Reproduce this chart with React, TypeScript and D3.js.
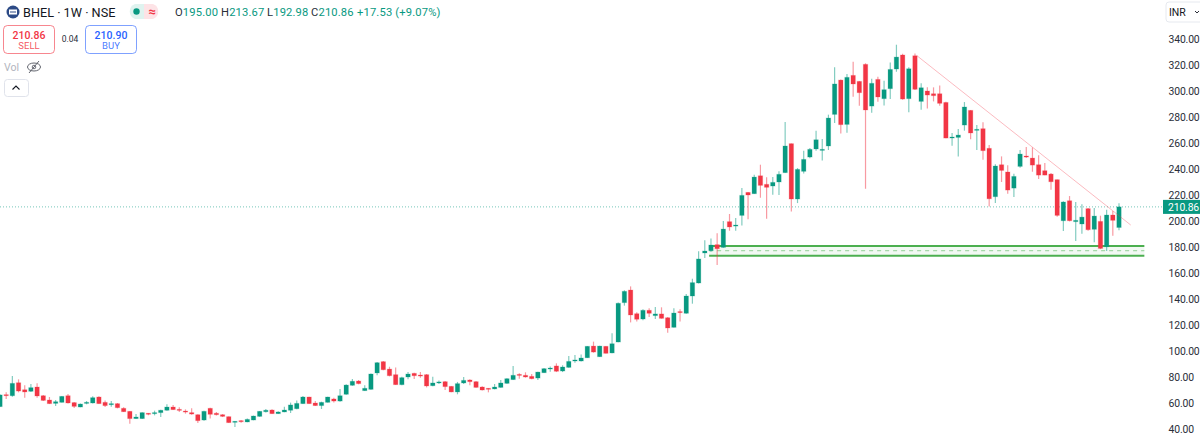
import React from "react";
import * as d3 from "d3";

const opens = [
  57.2, 66.4, 65.6, 75.6, 70.2, 69.0, 72.3, 65.6, 62.3, 59.7,
  60.5, 65.6, 60.3, 56.9, 59.7, 60.0, 64.6, 60.5, 58.7, 59.5,
  55.9, 53.6, 48.0, 48.0, 52.1, 51.8, 52.6, 54.4, 56.9, 55.1,
  53.8, 52.6, 51.0, 46.9, 55.9, 52.1, 51.0, 49.5, 45.6, 46.4,
  45.4, 46.9, 49.7, 53.3, 54.6, 51.8, 53.1, 54.4, 55.6, 59.5,
  64.6, 60.0, 58.0, 60.5, 63.1, 61.5, 66.7, 73.6, 76.9, 69.5,
  70.5, 83.1, 91.8, 86.1, 81.8, 74.1, 80.0, 82.8, 81.5, 81.8,
  73.3, 75.6, 76.4, 72.8, 68.5, 75.4, 77.7, 76.4, 72.3, 71.3,
  70.8, 72.0, 75.1, 78.0, 82.0, 81.3, 80.5, 79.2, 83.3, 86.4,
  88.5, 84.6, 87.4, 92.3, 92.3, 94.8, 103.8, 95.6, 103.6, 98.5,
  106.9, 137.2, 146.9, 128.7, 124.6, 131.3, 127.2, 128.5, 125.6, 118.2,
  130.3, 129.0, 142.3, 152.3, 175.4, 177.2, 181.8, 179.7, 199.5, 196.1,
  204.3, 222.0, 221.0, 234.8, 228.2, 226.9, 230.0, 237.2, 259.5, 216.9,
  238.2, 249.2, 255.4, 254.6, 257.7, 282.0, 308.4, 274.3, 312.0, 307.4,
  320.5, 288.4, 308.9, 294.1, 301.8, 316.9, 327.7, 294.1, 327.1, 292.0,
  300.0, 297.9, 297.9, 291.2, 264.1, 264.3, 273.8, 285.1, 270.0, 271.0,
  255.9, 218.7, 243.3, 237.7, 225.3, 242.0, 250.0, 248.4, 243.3, 238.7,
  236.1, 231.8, 200.2, 215.6, 199.5, 197.7, 209.5, 193.6, 199.7, 180.2,
  204.6, 195.0,
];

const closes = [
  66.2, 65.9, 75.1, 69.2, 68.5, 71.8, 65.4, 62.0, 59.5, 61.0,
  65.1, 60.0, 57.4, 59.2, 60.5, 64.1, 59.5, 58.0, 59.5, 56.4,
  53.3, 48.0, 49.2, 52.6, 51.5, 52.6, 54.4, 56.9, 54.9, 54.6,
  53.1, 51.5, 46.4, 53.6, 51.3, 51.0, 49.7, 44.9, 45.9, 45.9,
  47.4, 50.0, 53.6, 54.4, 51.8, 53.1, 54.6, 58.5, 59.7, 64.6,
  59.5, 58.0, 60.5, 64.6, 61.5, 65.6, 73.8, 76.7, 74.9, 71.3,
  82.3, 91.0, 85.6, 81.0, 74.1, 79.5, 82.3, 81.0, 81.3, 73.1,
  75.4, 76.2, 72.6, 68.5, 74.9, 77.4, 76.4, 72.0, 70.0, 70.8,
  72.3, 75.4, 78.7, 81.3, 81.3, 80.0, 78.7, 83.8, 86.4, 86.9,
  84.4, 87.7, 92.0, 93.1, 94.6, 103.6, 99.2, 103.8, 98.2, 105.6,
  136.7, 145.9, 127.7, 124.4, 131.3, 129.0, 128.5, 125.1, 117.7, 129.2,
  129.8, 142.3, 152.6, 170.8, 176.9, 181.5, 178.7, 193.8, 195.4, 196.9,
  219.7, 220.0, 233.8, 227.4, 225.9, 229.7, 235.9, 257.7, 216.9, 239.7,
  247.4, 255.1, 262.5, 255.1, 279.2, 305.4, 274.1, 310.5, 305.4, 298.7,
  285.4, 305.9, 295.4, 301.0, 316.6, 326.1, 293.8, 317.1, 301.3, 302.5,
  296.9, 296.4, 290.5, 263.8, 264.6, 266.1, 287.7, 267.7, 270.5, 254.1,
  217.1, 242.3, 238.9, 223.8, 234.3, 251.5, 249.2, 243.0, 235.3, 235.3,
  230.2, 204.3, 214.6, 200.2, 200.5, 203.0, 193.3, 203.8, 178.9, 204.6,
  200.5, 210.86,
];

const highs = [
  66.7, 68.2, 80.8, 78.2, 73.6, 74.6, 75.1, 66.2, 64.6, 62.3,
  65.4, 66.9, 60.8, 59.7, 61.5, 65.1, 65.1, 62.0, 61.5, 60.0,
  56.7, 53.8, 51.5, 52.8, 52.3, 54.1, 54.9, 59.0, 58.5, 56.7,
  55.1, 55.9, 51.3, 54.1, 56.4, 53.1, 51.5, 49.7, 46.2, 46.9,
  48.0, 50.3, 53.8, 55.4, 55.1, 53.6, 57.2, 60.3, 62.0, 65.4,
  64.9, 61.5, 61.0, 64.9, 64.1, 70.8, 74.4, 78.5, 77.7, 73.6,
  82.6, 91.5, 92.3, 87.9, 87.4, 80.2, 83.8, 83.3, 83.8, 82.3,
  80.2, 77.4, 76.9, 73.1, 76.2, 80.0, 78.2, 76.9, 72.8, 71.5,
  74.6, 77.7, 79.0, 88.5, 82.8, 83.6, 82.3, 84.1, 86.9, 88.0,
  90.5, 89.0, 96.2, 96.9, 97.4, 103.8, 107.2, 104.1, 103.8, 113.6,
  137.4, 146.7, 149.7, 129.8, 132.1, 132.8, 133.8, 133.6, 126.2, 132.8,
  132.1, 143.8, 155.6, 176.7, 185.1, 186.6, 190.5, 200.0, 205.4, 202.3,
  225.4, 222.3, 235.6, 243.3, 233.6, 233.8, 238.2, 276.1, 259.7, 240.7,
  254.1, 256.1, 269.5, 263.0, 281.8, 318.2, 308.9, 313.0, 322.5, 307.7,
  321.3, 309.5, 311.0, 307.9, 322.0, 335.6, 328.7, 318.2, 328.9, 305.9,
  302.8, 302.8, 304.3, 291.8, 267.7, 270.7, 291.5, 285.3, 273.8, 275.9,
  258.4, 243.6, 249.7, 242.8, 236.4, 254.6, 256.9, 256.6, 250.5, 244.6,
  236.9, 232.0, 215.1, 219.2, 214.6, 212.8, 210.0, 210.0, 204.1, 208.7,
  207.7, 213.67,
];

const lows = [
  56.9, 63.1, 64.9, 68.2, 64.1, 68.5, 64.1, 61.5, 59.2, 57.7,
  60.3, 59.7, 56.2, 56.7, 59.0, 59.7, 59.2, 56.9, 57.2, 55.9,
  53.1, 44.1, 47.7, 47.7, 50.5, 50.5, 49.2, 54.1, 54.6, 53.1,
  51.8, 51.0, 44.6, 46.4, 48.0, 50.3, 49.2, 44.6, 41.5, 44.9,
  45.1, 46.7, 49.5, 52.6, 51.5, 51.5, 52.8, 52.3, 55.1, 59.2,
  59.2, 57.7, 55.4, 60.3, 60.3, 61.0, 66.4, 73.3, 74.4, 69.2,
  70.2, 81.3, 85.1, 80.5, 73.8, 73.6, 78.2, 78.5, 79.5, 72.0,
  72.8, 74.6, 70.0, 68.2, 66.7, 74.6, 73.6, 71.8, 69.7, 68.2,
  70.5, 71.8, 74.9, 77.7, 78.7, 79.5, 78.2, 77.7, 83.1, 84.1,
  83.8, 83.8, 87.2, 91.0, 92.0, 94.6, 98.7, 95.4, 98.0, 98.2,
  106.7, 134.9, 122.0, 122.6, 123.6, 126.2, 124.6, 124.9, 114.1, 118.0,
  122.6, 128.7, 136.4, 152.0, 171.5, 176.4, 166.1, 179.5, 192.5, 192.5,
  196.6, 201.3, 220.7, 217.9, 201.8, 220.2, 220.0, 236.9, 207.4, 213.8,
  236.6, 248.2, 254.1, 246.6, 254.6, 275.4, 267.4, 267.9, 295.6, 288.7,
  224.8, 283.3, 291.8, 288.9, 293.8, 314.8, 293.3, 283.6, 300.7, 285.6,
  286.6, 292.0, 288.7, 263.6, 257.9, 249.7, 269.5, 262.8, 254.6, 247.1,
  211.2, 213.8, 230.0, 221.0, 218.4, 241.0, 248.4, 237.9, 232.3, 235.1,
  224.1, 203.3, 192.3, 199.7, 184.6, 190.2, 192.5, 183.6, 178.4, 176.9,
  188.7, 192.98,
];

const priceTicks = [340, 320, 300, 280, 260, 240, 220, 200, 180, 160, 140, 120, 100, 80, 60, 40];
const lastPrice = 210.86;
const zonePrices = [180.8, 177.2, 173.3];
const zoneBars = [114.7, 185.1];
const trendBars = [148.3, 182.9];
const trendPrices = [327.2, 196.9];
const ohlcLabels = [
  { key: "O", value: "195.00" },
  { key: "H", value: "213.67" },
  { key: "L", value: "192.98" },
  { key: "C", value: "210.86" },
];

const UP = "#089981";
const DOWN = "#f23645";
const FONT = "Roboto, 'Noto Sans', sans-serif";

const x = d3.scaleLinear().domain([0, opens.length - 1]).range([0, 1119]);
const y = d3.scaleLinear().domain([340, 40]).range([39, 429]);
const ohlcX = d3.scaleOrdinal<string, number>().domain(["O", "H", "L", "C"]).range([175, 221, 267, 311]);

const App: React.FC = () => {
  const trend = d3.line<number>()
    .x((d, i) => x(trendBars[i]))
    .y((d) => y(d))(trendPrices) as string;

  return (
    <>
      <style>{"body{margin:0;background:#fff}"}</style>
      <svg width={1200} height={435} style={{ display: "block", fontFamily: FONT }}>
        <rect width={1200} height={435} fill="#fff" />

        {/* last price line */}
        <line x1={0} x2={1163} y1={y(lastPrice)} y2={y(lastPrice)} stroke={UP} strokeOpacity={0.55} strokeDasharray="1 2" />

        {/* support zone */}
        <rect x={x(zoneBars[0])} width={x(zoneBars[1]) - x(zoneBars[0])} y={y(zonePrices[0])}
          height={y(zonePrices[2]) - y(zonePrices[0])} fill="#4caf50" fillOpacity={0.07} />
        <line x1={x(zoneBars[0])} x2={x(zoneBars[1])} y1={y(zonePrices[1])} y2={y(zonePrices[1])}
          stroke="#4caf50" strokeOpacity={0.45} strokeWidth={1.3} strokeDasharray="4 4" />
        {[zonePrices[0], zonePrices[2]].map((p) => (
          <line key={p} x1={x(zoneBars[0])} x2={x(zoneBars[1])} y1={y(p)} y2={y(p)} stroke="#4caf50" strokeWidth={2} />
        ))}

        {/* candles */}
        {opens.map((o, i) => {
          const c = closes[i];
          const col = c >= o ? UP : DOWN;
          const top = y(Math.max(o, c));
          const h = Math.max(y(Math.min(o, c)) - top, 1);
          return (
            <g key={i}>
              <line x1={x(i)} x2={x(i)} y1={y(highs[i])} y2={y(lows[i])} stroke={col} strokeOpacity={0.5} strokeWidth={1.2} />
              <rect x={x(i) - 2.2} width={4.4} y={top} height={h} fill={col} stroke={col} strokeOpacity={0.22} strokeWidth={1} />
            </g>
          );
        })}

        <path d={trend} fill="none" stroke={DOWN} strokeOpacity={0.38} strokeWidth={0.9} />

        {/* price axis */}
        {priceTicks.map((t) => (
          <text key={t} x={1168.5} y={y(t)} dy="0.35em" fontSize={10.4} letterSpacing={-0.15} fill="#2a2e39">{d3.format(".2f")(t)}</text>
        ))}
        <rect x={1163} y={y(lastPrice) - 7} width={37} height={14} fill={UP} />
        <text x={1168} y={y(lastPrice)} dy="0.35em" fontSize={10.4} letterSpacing={-0.15} fill="#fff">{lastPrice.toFixed(2)}</text>
        <rect x={1166} y={2} width={40} height={20} rx={3} fill="#fff" stroke="#e0e3eb" strokeWidth={0.8} />
        <text x={1169} y={12} dy="0.35em" fontSize={10.5} fill="#131722">INR</text>
        <path d="M1195 11 l2 2 l2 -2" fill="none" stroke="#131722" strokeWidth={0.9} />

        {/* header */}
        <circle cx={13} cy={12} r={6.5} fill="#2c4a86" />
        <rect x={9} y={9.5} width={8} height={5} fill="#fff" />
        <rect x={10} y={11.5} width={6} height={1} fill="#2c4a86" />
        <text x={23} y={12} dy="0.36em" fontSize={12.7} fill="#131722">BHEL · 1W · NSE</text>

        <path d="M144 4 H135 a8 8 0 0 0 0 15 H144 Z" fill="#dff3ef" />
        <path d="M144 4 H153 a8 8 0 0 1 0 15 H144 Z" fill="#fde3e6" />
        <circle cx={136.5} cy={11.5} r={3.2} fill={UP} />
        <text x={152} y={11.5} dy="0.35em" textAnchor="middle" fontSize={13} fontWeight={700} fill={DOWN}>≈</text>

        {ohlcLabels.map((d) => (
          <text key={d.key} x={ohlcX(d.key)} y={12} dy="0.35em" fontSize={11.2} letterSpacing={0.15} fill={UP}>
            <tspan fill="#2a2e39">{d.key}</tspan>{d.value}
          </text>
        ))}
        <text x={357} y={12} dy="0.35em" fontSize={11.2} letterSpacing={0.15} fill={UP}>+17.53 (+9.07%)</text>

        {/* sell / buy */}
        <rect x={3.5} y={25.5} width={51} height={28} rx={4} fill="#fff" stroke={DOWN} strokeOpacity={0.6} />
        <text x={29} y={35} dy="0.35em" textAnchor="middle" fontSize={10.5} fontWeight={500} fill={DOWN}>210.86</text>
        <text x={29} y={46} dy="0.35em" textAnchor="middle" fontSize={9.5} fill={DOWN} fillOpacity={0.85}>SELL</text>
        <text x={70} y={39} dy="0.35em" textAnchor="middle" fontSize={8.5} fill="#2a2e39">0.04</text>
        <rect x={85.5} y={25.5} width={51} height={28} rx={4} fill="#fff" stroke="#2962ff" strokeOpacity={0.6} />
        <text x={111} y={35} dy="0.35em" textAnchor="middle" fontSize={10.5} fontWeight={500} fill="#2962ff">210.90</text>
        <text x={111} y={46} dy="0.35em" textAnchor="middle" fontSize={9.5} fill="#2962ff" fillOpacity={0.85}>BUY</text>

        {/* vol row */}
        <text x={4} y={67} dy="0.35em" fontSize={10.5} fill="#b2b5be">Vol</text>
        <ellipse cx={34} cy={67} rx={6.5} ry={4} fill="none" stroke="#50535e" strokeWidth={0.9} />
        <circle cx={34} cy={67} r={1.8} fill="none" stroke="#50535e" strokeWidth={0.8} />
        <line x1={29} x2={39} y1={73} y2={61} stroke="#50535e" strokeWidth={0.9} />
        <rect x={4.5} y={79.5} width={24} height={17} rx={3} fill="#fff" stroke="#e0e3eb" />
        <path d="M12.5 89.5 L16 86 L19.5 89.5" fill="none" stroke="#131722" strokeWidth={1.1} />
      </svg>
    </>
  );
};

export default App;
